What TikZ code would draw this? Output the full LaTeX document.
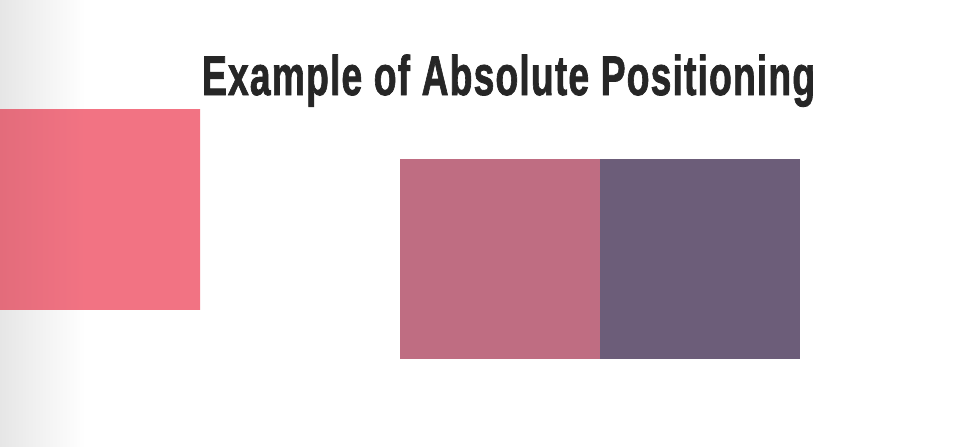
\documentclass[tikz,border=0pt]{standalone}
\usepackage{graphicx}
\usepackage{xcolor}
\usepackage{fontspec}
\newfontfamily\titlefont{Liberation Sans}[BoldFont=* Bold, BoldFeatures={FakeBold=1.6, LetterSpace=3}]
\usepackage{tikz}
\usetikzlibrary{positioning}

\definecolor{pinkred}{HTML}{F27383}
\definecolor{pinkdark}{HTML}{E36C7B}
\definecolor{mauve}{HTML}{BF6D82}
\definecolor{plum}{HTML}{6C5D79}
\definecolor{titlegray}{HTML}{262626}
\definecolor{edgegray}{HTML}{E6E6E6}
\pgfdeclarehorizontalshading{pinkfade}{100bp}{color(0bp)=(pinkdark); color(25bp)=(pinkdark); color(46.25bp)=(pinkred); color(100bp)=(pinkred)}

\begin{document}
\begin{tikzpicture}[x=1pt, y=-1pt, node distance=0pt, every node/.style={inner sep=0pt, outer sep=0pt}, sq/.style={minimum size=200pt, draw=none}]
\useasboundingbox[fill=white] (0,0) rectangle (962,447);
\shade[left color=edgegray, right color=white] (0,0) rectangle (85,447);
\node (title) [anchor=base west, text=titlegray] at (202,95) {\resizebox{613pt}{40.5pt}{\titlefont\bfseries Example of Absolute Positioning}};
\node (boxa) [sq, shading=pinkfade, anchor=north west] at (0,109) {};
\node (boxb) [sq, fill=mauve, anchor=north west] at (400,159) {};
\node (boxc) [sq, fill=plum, right=of boxb] {};
\end{tikzpicture}
\end{document}
